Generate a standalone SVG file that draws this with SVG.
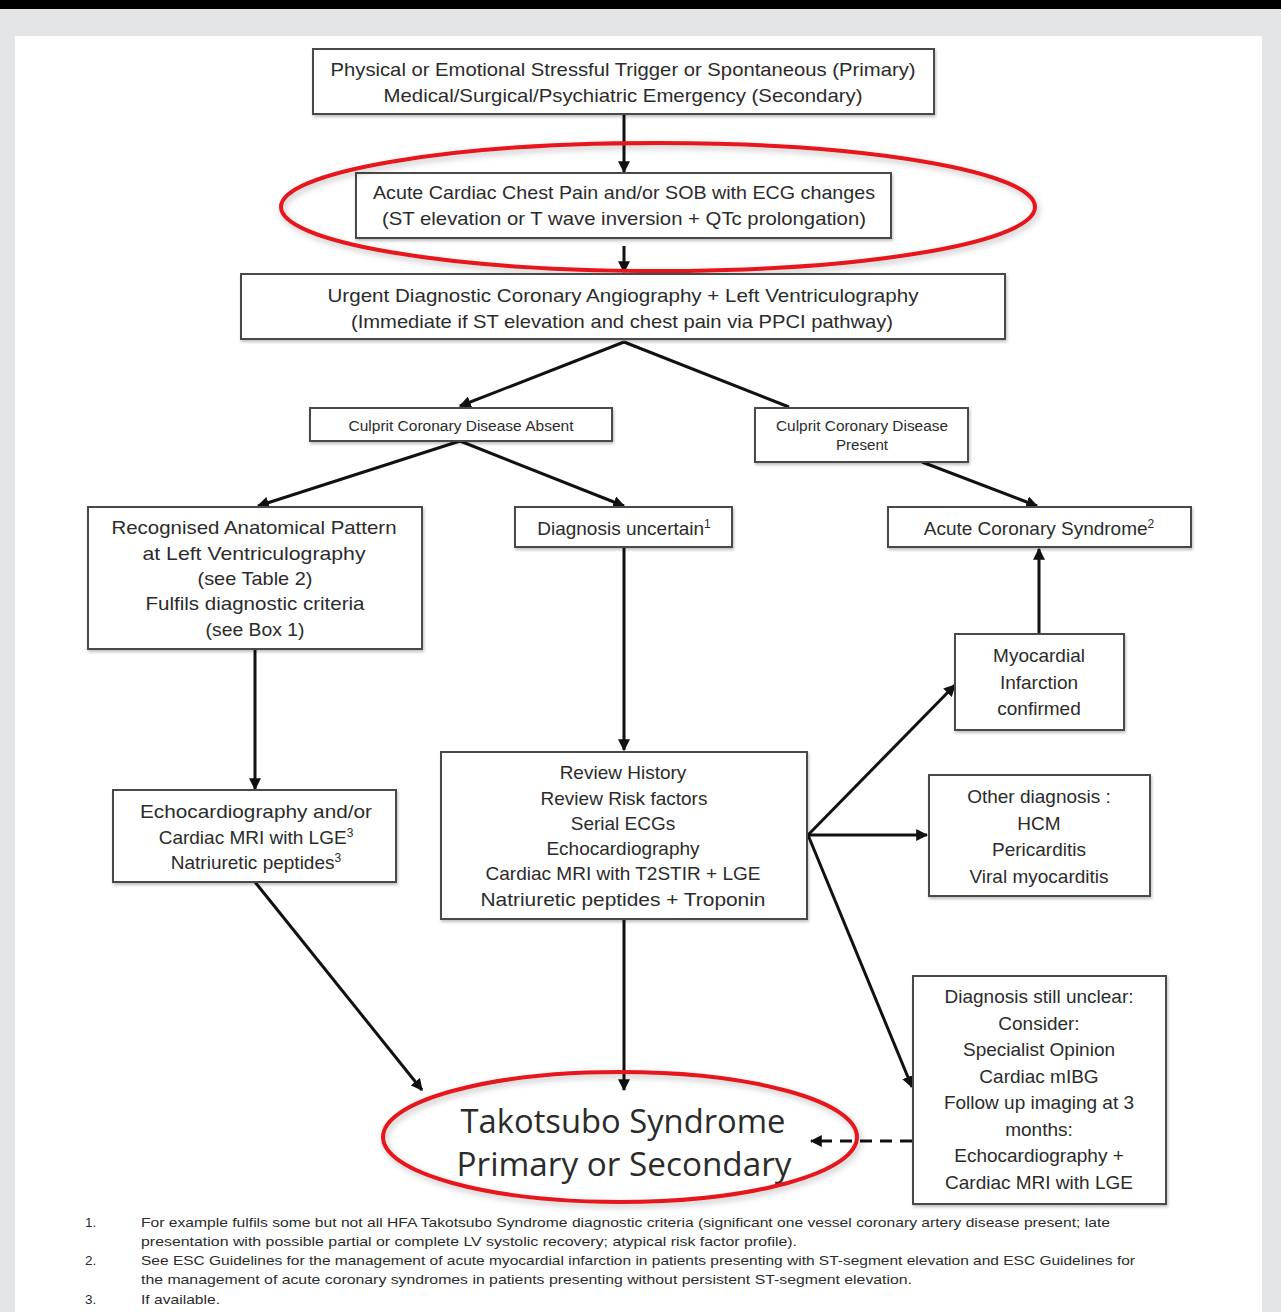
<svg xmlns="http://www.w3.org/2000/svg" width="1281" height="1312" viewBox="0 0 1281 1312">
<style>
.box{fill:#fff;stroke:#4a4a4a;stroke-width:2}
.t{font-family:"Liberation Sans",Arial,sans-serif;font-size:19px;fill:#2b2b2b;text-anchor:middle}
.s{font-family:"Liberation Sans",Arial,sans-serif;font-size:14px;fill:#2b2b2b;text-anchor:middle}
.big{font-family:"Open Sans","Liberation Sans",sans-serif;font-size:33px;fill:#2b2b2b;text-anchor:middle}
.fn{font-family:"Liberation Sans",Arial,sans-serif;font-size:13.5px;fill:#2b2b2b}
.c{stroke:#111;stroke-width:3;fill:none}
.red{fill:none;stroke:#e5161c;stroke-width:4}
</style>
<defs>
<marker id="ah" viewBox="0 0 10 10" refX="9" refY="5" markerWidth="12" markerHeight="12" markerUnits="userSpaceOnUse" orient="auto">
<path d="M0,0 L10,5 L0,10 z" fill="#111"/>
</marker>
<filter id="sh" x="-10%" y="-20%" width="120%" height="140%">
<feDropShadow dx="1" dy="2" stdDeviation="1.5" flood-color="#000" flood-opacity="0.25"/>
</filter>
<filter id="rsh" x="-10%" y="-20%" width="120%" height="140%">
<feDropShadow dx="2" dy="3" stdDeviation="3" flood-color="#000" flood-opacity="0.25"/>
</filter>
</defs>
<rect x="0" y="0" width="1281" height="1312" fill="#e4e5e7"/>
<rect x="0" y="0" width="1281" height="9" fill="#000"/>
<rect x="15" y="36" width="1247" height="1276" fill="#fff"/>

<g id="connectors">
<line class="c" x1="624" y1="114" x2="624" y2="172" marker-end="url(#ah)"/>
<line class="c" x1="624" y1="246" x2="624" y2="272" marker-end="url(#ah)"/>
<line class="c" x1="624" y1="342" x2="460" y2="406" marker-end="url(#ah)"/>
<line class="c" x1="624" y1="342" x2="789" y2="407"/>
<line class="c" x1="460" y1="441" x2="258" y2="506" marker-end="url(#ah)"/>
<line class="c" x1="460" y1="441" x2="624" y2="506" marker-end="url(#ah)"/>
<line class="c" x1="922" y1="462" x2="1037" y2="506" marker-end="url(#ah)"/>
<line class="c" x1="1039" y1="634" x2="1039" y2="549" marker-end="url(#ah)"/>
<line class="c" x1="255" y1="649" x2="255" y2="789" marker-end="url(#ah)"/>
<line class="c" x1="624" y1="547" x2="624" y2="750" marker-end="url(#ah)"/>
<line class="c" x1="808" y1="835" x2="955" y2="685" marker-end="url(#ah)"/>
<line class="c" x1="808" y1="835" x2="927" y2="835" marker-end="url(#ah)"/>
<line class="c" x1="808" y1="835" x2="912" y2="1087" marker-end="url(#ah)"/>
<line class="c" x1="255" y1="882" x2="422" y2="1090" marker-end="url(#ah)"/>
<line class="c" x1="624" y1="919" x2="624" y2="1090" marker-end="url(#ah)"/>
<line class="c" x1="912" y1="1141" x2="811" y2="1141" stroke-dasharray="12,8" marker-end="url(#ah)"/>
</g>

<g id="n-trigger">
<rect class="box" filter="url(#sh)" x="313" y="49" width="621" height="65"/>
<text class="t" x="623" y="76" textLength="585" lengthAdjust="spacingAndGlyphs">Physical or Emotional Stressful Trigger or Spontaneous (Primary)</text>
<text class="t" x="623" y="102" textLength="479" lengthAdjust="spacingAndGlyphs">Medical/Surgical/Psychiatric Emergency (Secondary)</text>
</g>

<g id="n-acute">
<rect class="box" filter="url(#sh)" x="356" y="173" width="535" height="65"/>
<text class="t" x="624" y="199" textLength="502" lengthAdjust="spacingAndGlyphs">Acute Cardiac Chest Pain and/or SOB with ECG changes</text>
<text class="t" x="624" y="225" textLength="484" lengthAdjust="spacingAndGlyphs">(ST elevation or T wave inversion + QTc prolongation)</text>
<ellipse class="red" filter="url(#rsh)" cx="658" cy="207" rx="377" ry="64"/>
</g>

<g id="n-urgent">
<rect class="box" filter="url(#sh)" x="241" y="274" width="764" height="65"/>
<text class="t" x="623" y="302" textLength="591" lengthAdjust="spacingAndGlyphs">Urgent Diagnostic Coronary Angiography + Left Ventriculography</text>
<text class="t" x="622" y="328" textLength="542" lengthAdjust="spacingAndGlyphs">(Immediate if ST elevation and chest pain via PPCI pathway)</text>
</g>

<g id="n-absent">
<rect class="box" filter="url(#sh)" x="310" y="408" width="302" height="33"/>
<text class="s" x="461" y="431" textLength="225" lengthAdjust="spacingAndGlyphs">Culprit Coronary Disease Absent</text>
</g>

<g id="n-present">
<rect class="box" filter="url(#sh)" x="755" y="408" width="213" height="54"/>
<text class="s" x="862" y="431" textLength="172" lengthAdjust="spacingAndGlyphs">Culprit Coronary Disease</text>
<text class="s" x="862" y="450" textLength="52" lengthAdjust="spacingAndGlyphs">Present</text>
</g>

<g id="n-recognised">
<rect class="box" filter="url(#sh)" x="88" y="507" width="334" height="142"/>
<text class="t" x="254" y="534" textLength="285" lengthAdjust="spacingAndGlyphs">Recognised Anatomical Pattern</text>
<text class="t" x="254" y="560" textLength="223" lengthAdjust="spacingAndGlyphs">at Left Ventriculography</text>
<text class="t" x="255" y="585" textLength="115" lengthAdjust="spacingAndGlyphs">(see Table 2)</text>
<text class="t" x="255" y="610" textLength="219" lengthAdjust="spacingAndGlyphs">Fulfils diagnostic criteria</text>
<text class="t" x="255" y="636" textLength="99" lengthAdjust="spacingAndGlyphs">(see Box 1)</text>
</g>

<g id="n-uncertain">
<rect class="box" filter="url(#sh)" x="515" y="507" width="217" height="40"/>
<text class="t" x="624" y="535">Diagnosis uncertain<tspan font-size="12" dy="-7">1</tspan></text>
</g>

<g id="n-acs">
<rect class="box" filter="url(#sh)" x="888" y="507" width="303" height="40"/>
<text class="t" x="1039" y="535">Acute Coronary Syndrome<tspan font-size="12" dy="-7">2</tspan></text>
</g>

<g id="n-mi">
<rect class="box" filter="url(#sh)" x="955" y="634" width="169" height="96"/>
<text class="t" x="1039" y="662">Myocardial</text>
<text class="t" x="1039" y="689">Infarction</text>
<text class="t" x="1039" y="715">confirmed</text>
</g>

<g id="n-echo">
<rect class="box" filter="url(#sh)" x="113" y="790" width="283" height="92"/>
<text class="t" x="256" y="818" textLength="232" lengthAdjust="spacingAndGlyphs">Echocardiography and/or</text>
<text class="t" x="256" y="844">Cardiac MRI with LGE<tspan font-size="12" dy="-7">3</tspan></text>
<text class="t" x="256" y="869">Natriuretic peptides<tspan font-size="12" dy="-7">3</tspan></text>
</g>

<g id="n-review">
<rect class="box" filter="url(#sh)" x="441" y="752" width="366" height="167"/>
<text class="t" x="623" y="779">Review History</text>
<text class="t" x="624" y="805">Review Risk factors</text>
<text class="t" x="623" y="830">Serial ECGs</text>
<text class="t" x="623" y="855">Echocardiography</text>
<text class="t" x="623" y="880" textLength="275" lengthAdjust="spacingAndGlyphs">Cardiac MRI with T2STIR + LGE</text>
<text class="t" x="623" y="906" textLength="285" lengthAdjust="spacingAndGlyphs">Natriuretic peptides + Troponin</text>
</g>

<g id="n-other">
<rect class="box" filter="url(#sh)" x="929" y="775" width="221" height="121"/>
<text class="t" x="1039" y="803">Other diagnosis :</text>
<text class="t" x="1039" y="830">HCM</text>
<text class="t" x="1039" y="856">Pericarditis</text>
<text class="t" x="1039" y="883">Viral myocarditis</text>
</g>

<g id="n-unclear">
<rect class="box" filter="url(#sh)" x="913" y="976" width="253" height="228"/>
<text class="t" x="1039" y="1003">Diagnosis still unclear:</text>
<text class="t" x="1039" y="1030">Consider:</text>
<text class="t" x="1039" y="1056">Specialist Opinion</text>
<text class="t" x="1039" y="1083">Cardiac mIBG</text>
<text class="t" x="1039" y="1109">Follow up imaging at 3</text>
<text class="t" x="1039" y="1136">months:</text>
<text class="t" x="1039" y="1162">Echocardiography +</text>
<text class="t" x="1039" y="1189">Cardiac MRI with LGE</text>
</g>

<g id="n-takotsubo">
<text class="big" x="623" y="1133" textLength="325" lengthAdjust="spacingAndGlyphs">Takotsubo Syndrome</text>
<text class="big" x="624" y="1176" textLength="335" lengthAdjust="spacingAndGlyphs">Primary or Secondary</text>
<ellipse class="red" filter="url(#rsh)" cx="620" cy="1137" rx="237" ry="65"/>
</g>

<g id="footnotes">
<text class="fn" x="85" y="1227">1.</text>
<text class="fn" x="141" y="1227" textLength="969" lengthAdjust="spacingAndGlyphs">For example fulfils some but not all HFA Takotsubo Syndrome diagnostic criteria (significant one vessel coronary artery disease present; late</text>
<text class="fn" x="141" y="1246" textLength="656" lengthAdjust="spacingAndGlyphs">presentation with possible partial or complete LV systolic recovery; atypical risk factor profile).</text>
<text class="fn" x="85" y="1265">2.</text>
<text class="fn" x="141" y="1265" textLength="994" lengthAdjust="spacingAndGlyphs">See ESC Guidelines for the management of acute myocardial infarction in patients presenting with ST-segment elevation and ESC Guidelines for</text>
<text class="fn" x="141" y="1284" textLength="771" lengthAdjust="spacingAndGlyphs">the management of acute coronary syndromes in patients presenting without persistent ST-segment elevation.</text>
<text class="fn" x="85" y="1304">3.</text>
<text class="fn" x="141" y="1304" textLength="79" lengthAdjust="spacingAndGlyphs">If available.</text>
</g>
</svg>
